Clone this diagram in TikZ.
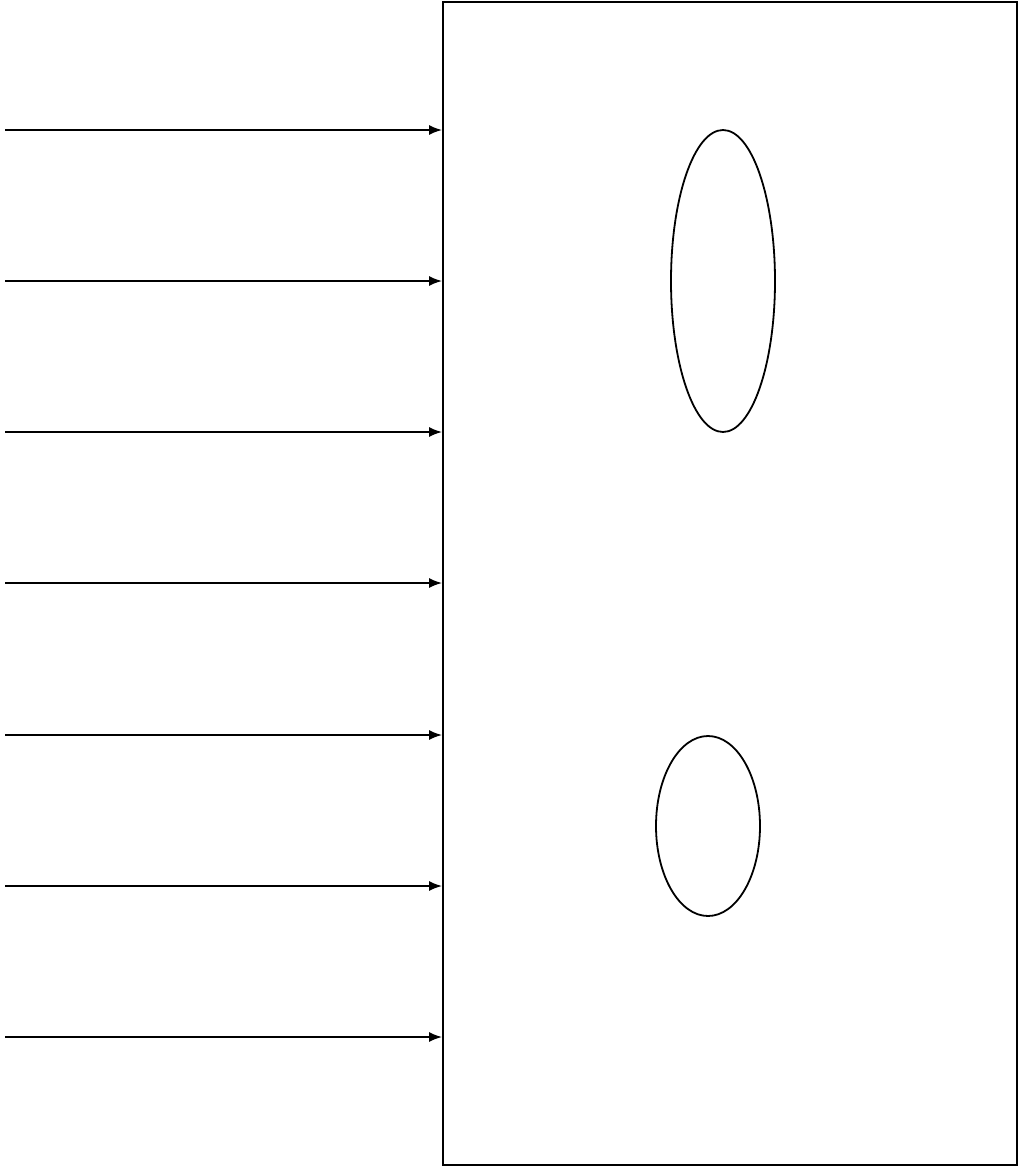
\documentclass[tikz,border=0pt]{standalone}
\usetikzlibrary{arrows.meta,shapes.geometric}
\begin{document}
\begin{tikzpicture}[x=1pt,y=-1pt,
  line width=1.8pt,
  boxstyle/.style={draw,rectangle,inner sep=0pt,minimum width=574pt,minimum height=1163pt},
  ellstyle/.style={draw,ellipse,inner sep=0pt},
  inarrow/.style={-{Latex[length=13pt,width=10pt]}}]
\useasboundingbox (0,0) rectangle (1019,1167);
\node[boxstyle] (box) at (730,583.5) {};
\node[ellstyle,minimum width=104pt,minimum height=302pt] (e1) at (723,281) {};
\node[ellstyle,minimum width=104pt,minimum height=180pt] (e2) at (708,826) {};
\foreach \i/\yy in {1/130,2/281,3/432,4/583,5/735,6/886,7/1037}{
  \coordinate (s\i) at (5,\yy);
  \draw[inarrow] (s\i) -- (s\i -| box.west);
}
\end{tikzpicture}
\end{document}
